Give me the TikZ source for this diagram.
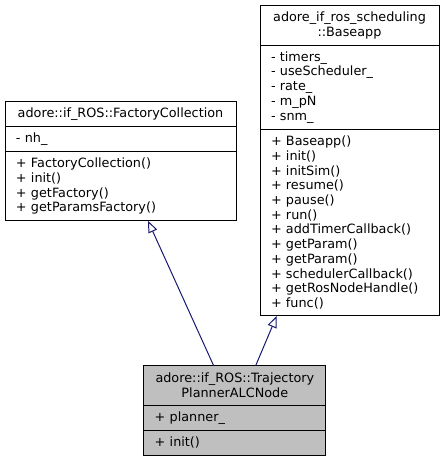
\documentclass[tikz,border=0pt]{standalone}
\usepackage{fontspec}
\setmainfont{DejaVu Sans}
\usetikzlibrary{arrows.meta,positioning}
\definecolor{edgeblue}{RGB}{25,25,112}
\definecolor{maingray}{RGB}{191,191,191}

\tikzset{
	sec/.style={draw=black, line width=0.75pt, outer sep=0pt, inner xsep=8.25pt, inner ysep=0pt,
		minimum height={(10.3+14.7*#1)*0.75pt}, align=left, font=\fontsize{9.6}{11.025}\selectfont},
	hdr/.style={sec=#1, align=center, inner xsep=2pt},
	inherit/.style={draw=edgeblue, line width=0.75pt, -{Triangle[open, length=8.8pt, width=7pt]}},
}

\begin{document}
\begin{tikzpicture}[x=0.75pt, y=-0.75pt]
				\useasboundingbox (0,0) rectangle (445,463);
				% base class on the left
				\node[hdr=1, minimum width=173.25pt, anchor=north] (fcT) at (120.5,101.7) {adore::if\_ROS::FactoryCollection};
				\node[sec=1, text width=156.75pt, below=0pt of fcT] (fcA) {- nh\_};
				\node[sec=4, text width=156.75pt, below=0pt of fcA] (fcM) {+ FactoryCollection()\\+ init()\\+ getFactory()\\+ getParamsFactory()};

				% base class on the right
				\node[hdr=2, minimum width=134.25pt, anchor=north] (baT) at (349.5,5.7) {adore\_if\_ros\_scheduling\\::Baseapp};
				\node[sec=5, text width=117.75pt, below=0pt of baT] (baA) {- timers\_\\- useScheduler\_\\- rate\_\\- m\_pN\\- snm\_};
				\node[sec=12, text width=117.75pt, below=0pt of baA] (baM) {+ Baseapp()\\+ init()\\+ initSim()\\+ resume()\\+ pause()\\+ run()\\+ addTimerCallback()\\+ getParam()\\+ getParam()\\+ schedulerCallback()\\+ getRosNodeHandle()\\+ func()};

				% derived class
				\node[hdr=2, fill=maingray, minimum width=136.7pt, anchor=north] (btT) at (234.85,365.7) {adore::if\_ROS::Trajectory\\PlannerALCNode};
				\node[sec=1, fill=maingray, text width=120.2pt, below=0pt of btT] (btA) {+ planner\_};
				\node[sec=1, fill=maingray, text width=120.2pt, below=0pt of btA] (btM) {+ init()};

				\draw[inherit] ([xshift=-15.9pt]btT.north) -- ([xshift=20.6pt]fcM.south);
				\draw[inherit] ([xshift=15.6pt]btT.north) -- ([xshift=-54.6pt]baM.south);
			\end{tikzpicture}
\end{document}
